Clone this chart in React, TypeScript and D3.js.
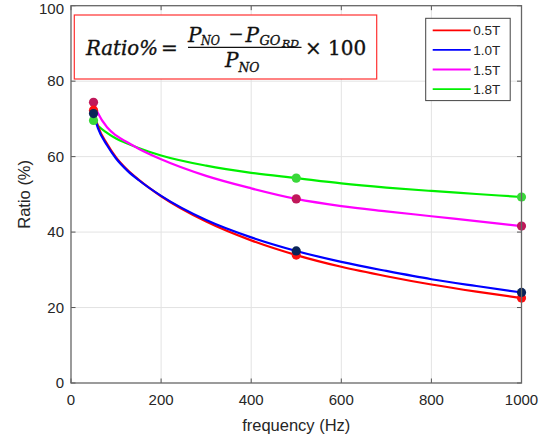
import React from "react";
import * as d3 from "d3";

// ---- data ----
const freq = [50, 60, 80, 100, 125, 150, 200, 300, 400, 500, 600, 700, 800, 900, 1000];
const series05 = [72.3, 68.0, 63.4, 59.8, 56.5, 53.9, 49.5, 42.8, 37.8, 33.9, 30.8, 28.3, 26.1, 24.2, 22.5];
const series10 = [71.4, 67.5, 63.0, 59.5, 56.3, 53.8, 49.6, 43.2, 38.6, 35.0, 32.1, 29.7, 27.5, 25.7, 24.0];
const series15 = [74.4, 71.5, 67.8, 65.6, 63.8, 62.1, 59.3, 54.9, 51.6, 48.8, 46.9, 45.5, 44.2, 42.9, 41.6];
const series18 = [69.6, 68.2, 66.3, 64.8, 63.5, 62.3, 60.3, 57.6, 55.7, 54.3, 52.9, 51.8, 50.9, 50.1, 49.3];

const markerFreq = [50, 500, 1000];
const marker05 = [72.3, 33.9, 22.5];
const marker10 = [71.4, 35.0, 24.0];
const marker15 = [74.4, 48.8, 41.6];
const marker18 = [69.6, 54.3, 49.3];

const legendLabels = ["0.5T", "1.0T", "1.5T", "1.8T"];
const xTicks = [0, 200, 400, 600, 800, 1000];
const yTicks = [0, 20, 40, 60, 80, 100];

const seriesList = [
  { label: legendLabels[0], values: series05, markers: marker05, line: "#ff0000", mark: "#ff1010" },
  { label: legendLabels[1], values: series10, markers: marker10, line: "#0000ff", mark: "#0a2458" },
  { label: legendLabels[2], values: series15, markers: marker15, line: "#ff00ff", mark: "#c0185a" },
  { label: legendLabels[3], values: series18, markers: marker18, line: "#00f000", mark: "#3ad83a" },
];

const W = 551;
const H = 439;
const x = d3.scaleLinear().domain([0, 1000]).range([71, 521.5]);
const y = d3.scaleLinear().domain([0, 100]).range([383, 5.7]);

const font = "Liberation Sans, Arial, sans-serif";
const mathFont = "DejaVu Serif, serif";
const textColor = "#262626";

export default function App() {
  const line = d3
    .line<number>()
    .x((_, i) => x(freq[i]))
    .y((d) => y(d))
    .curve(d3.curveMonotoneX);

  const drawOrder = [3, 2, 0, 1];

  return (
    <svg
      width={W}
      height={H}
      style={{ position: "absolute", left: 0, top: 0, background: "#fff" }}
      xmlns="http://www.w3.org/2000/svg"
    >
      <rect x={0} y={0} width={W} height={H} fill="#fff" />
      {/* grid */}
      {xTicks.slice(1, -1).map((t) => (
        <line key={"gx" + t} x1={x(t)} x2={x(t)} y1={y(0)} y2={y(100)} stroke="#e3e3e3" strokeWidth={1} />
      ))}
      {yTicks.slice(1, -1).map((t) => (
        <line key={"gy" + t} x1={x(0)} x2={x(1000)} y1={y(t)} y2={y(t)} stroke="#e3e3e3" strokeWidth={1} />
      ))}

      {/* ticks (inward, on all four sides) */}
      {xTicks.map((t) => (
        <g key={"tx" + t}>
          <line x1={x(t)} x2={x(t)} y1={y(0)} y2={y(0) - 4.5} stroke="#555" strokeWidth={1} />
          <line x1={x(t)} x2={x(t)} y1={y(100)} y2={y(100) + 4.5} stroke="#555" strokeWidth={1} />
          <text x={x(t)} y={405} textAnchor="middle" fontFamily={font} fontSize={15} fill={textColor}>
            {t}
          </text>
        </g>
      ))}
      {yTicks.map((t) => (
        <g key={"ty" + t}>
          <line x1={x(0)} x2={x(0) + 4.5} y1={y(t)} y2={y(t)} stroke="#555" strokeWidth={1} />
          <line x1={x(1000)} x2={x(1000) - 4.5} y1={y(t)} y2={y(t)} stroke="#555" strokeWidth={1} />
          <text x={64} y={Math.max(y(t) + 5.3, 13.5)} textAnchor="end" fontFamily={font} fontSize={15} fill={textColor}>
            {t}
          </text>
        </g>
      ))}

      {/* curves */}
      {drawOrder.map((i) => (
        <path key={"l" + i} d={line(seriesList[i].values) || ""} fill="none" stroke={seriesList[i].line} strokeWidth={2.2} />
      ))}
      {/* markers */}
      {drawOrder.map((i) =>
        seriesList[i].markers.map((v, j) => (
          <circle key={"m" + i + "-" + j} cx={x(markerFreq[j])} cy={y(v)} r={4.6} fill={seriesList[i].mark} />
        ))
      )}

      {/* axes box */}
      <rect x={x(0)} y={y(100)} width={x(1000) - x(0)} height={y(0) - y(100)} fill="none" stroke="#666" strokeWidth={1.3} />

      {/* axis titles */}
      <text x={(x(0) + x(1000)) / 2} y={431} textAnchor="middle" fontFamily={font} fontSize={16.5} fill={textColor}>
        frequency (Hz)
      </text>
      <text
        transform={`translate(30, ${(y(0) + y(100)) / 2}) rotate(-90)`}
        textAnchor="middle"
        fontFamily={font}
        fontSize={16.5}
        fill={textColor}
      >
        Ratio (%)
      </text>

      {/* formula box */}
      <rect x={74.3} y={15} width={302.4} height={64} fill="#fff" stroke="#ff3030" strokeWidth={1.2} />
      <g fontFamily={mathFont} fill="#111" fontStyle="italic" stroke="#111" strokeWidth={0.35}>
        <text x={86} y={55} fontSize={20} textLength={72} lengthAdjust="spacingAndGlyphs">
          Ratio%
        </text>
        <text x={161} y={55} fontSize={20} fontStyle="normal">
          =
        </text>
        <line x1={188} x2={301.5} y1={47.3} y2={47.3} stroke="#111" strokeWidth={1.2} />
        {/* numerator */}
        <text x={188} y={41.5} fontSize={20}>P</text>
        <text x={201} y={45} fontSize={13} textLength={19} lengthAdjust="spacingAndGlyphs">NO</text>
        <text x={236} y={40} fontSize={18} fontStyle="normal" textAnchor="middle">−</text>
        <text x={245.5} y={41.5} fontSize={20}>P</text>
        <text x={259.5} y={45} fontSize={13} textLength={21} lengthAdjust="spacingAndGlyphs">GO</text>
        <text x={282} y={46.5} fontSize={10} textLength={17} lengthAdjust="spacingAndGlyphs">RD</text>
        {/* denominator */}
        <text x={225} y={67} fontSize={20}>P</text>
        <text x={238.5} y={72} fontSize={13} textLength={21} lengthAdjust="spacingAndGlyphs">NO</text>
        <text x={305} y={55} fontSize={20} fontStyle="normal">× 100</text>
      </g>

      {/* legend */}
      <rect x={425.7} y={18.3} width={84.5} height={82.3} fill="#fff" stroke="#444" strokeWidth={1} />
      {seriesList.map((s, i) => {
        const cy = 30.3 + i * 19.6;
        return (
          <g key={"lg" + i}>
            <line x1={432.7} x2={470.7} y1={cy} y2={cy} stroke={s.line} strokeWidth={1.8} />
            <text x={473.3} y={cy + 5} fontFamily={font} fontSize={13.5} fill={textColor}>
              {s.label}
            </text>
          </g>
        );
      })}
    </svg>
  );
}
